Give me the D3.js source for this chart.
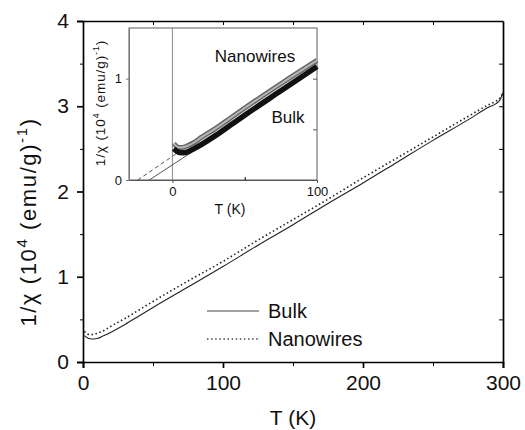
<!DOCTYPE html>
<html>
<head>
<meta charset="utf-8">
<script src="https://cdn.jsdelivr.net/npm/d3@7"></script>
<style>
  body { margin: 0; background: #fff; }
  text { font-family: "Liberation Sans", Arial, sans-serif; fill: #111; }
</style>
</head>
<body>
<div id="chart"></div>
<script>
// temperatures (K) and 1/chi values (10^4 (emu/g)^-1)
const temps = [1, 3, 5, 8, 10, 15, 20, 30, 40, 50, 75, 100, 125, 150, 175, 200, 225, 250, 275, 290, 295, 298, 300];
const bulk = [0.31, 0.285, 0.272, 0.27, 0.275, 0.31, 0.35, 0.44, 0.54, 0.64, 0.88, 1.12, 1.37, 1.61, 1.86, 2.10, 2.35, 2.60, 2.84, 2.99, 3.03, 3.08, 3.16];
const nanowires = [0.36, 0.33, 0.32, 0.325, 0.335, 0.37, 0.42, 0.51, 0.61, 0.71, 0.95, 1.18, 1.43, 1.67, 1.91, 2.16, 2.40, 2.64, 2.88, 3.02, 3.06, 3.10, 3.16];

// Curie-Weiss extrapolations shown in the inset
const bulkFitT = [-16, 14];
const bulkFit = [0, 0.28];
const nanoFitT = [-24, 10];
const nanoFit = [0, 0.33];

const xTicks = [0, 100, 200, 300];
const yTicks = [0, 1, 2, 3, 4];
const insetXTicks = [0, 100];
const insetYTicks = [0, 1];
const legendLabels = ["Bulk", "Nanowires"];

function main() {
    const svg = d3.select("#chart").append("svg")
        .attr("width", 525)
        .attr("height", 430);

    const x = d3.scaleLinear().domain([0, 300]).range([83, 503]);
    const y = d3.scaleLinear().domain([0, 4]).range([362, 21]);

    const bulkData = temps.map((t, i) => ({ t: t, v: bulk[i] }));
    const nanoData = temps.map((t, i) => ({ t: t, v: nanowires[i] }));

    // main axes
    svg.append("g")
        .attr("transform", "translate(0,362)")
        .call(d3.axisBottom(x).tickValues(xTicks).tickSize(6).tickPadding(7).tickFormat(d3.format("d")))
        .call(g => g.selectAll("text").attr("font-size", 21))
        .call(g => g.selectAll(".domain, line").attr("stroke-width", 1.7));
    svg.append("g")
        .attr("transform", "translate(0,362)")
        .call(d3.axisBottom(x).tickValues([50, 150, 250]).tickSize(4).tickFormat(""))
        .call(g => g.select(".domain").remove());

    svg.append("g")
        .attr("transform", "translate(83,0)")
        .call(d3.axisLeft(y).tickValues(yTicks).tickSize(6).tickPadding(8).tickFormat(d3.format("d")))
        .call(g => g.selectAll("text").attr("font-size", 21))
        .call(g => g.selectAll(".domain, line").attr("stroke-width", 1.7));
    svg.append("g")
        .attr("transform", "translate(83,0)")
        .call(d3.axisLeft(y).tickValues([0.5, 1.5, 2.5, 3.5]).tickSize(3).tickFormat(""))
        .call(g => g.select(".domain").remove());

    // top and right with inward ticks
    svg.append("g")
        .attr("transform", "translate(0,21)")
        .call(d3.axisBottom(x).tickValues([50, 100, 150, 200, 250]).tickSize(4).tickFormat("").tickSizeOuter(0))
        .call(g => g.select(".domain").attr("stroke-width", 1.7));
    svg.append("g")
        .attr("transform", "translate(503,0)")
        .call(d3.axisLeft(y).tickValues([0.5, 1, 1.5, 2, 2.5, 3, 3.5]).tickSize(4).tickFormat("").tickSizeOuter(0))
        .call(g => g.select(".domain").attr("stroke-width", 1.7));

    // axis titles
    svg.append("text")
        .attr("x", 293).attr("y", 425)
        .attr("text-anchor", "middle")
        .attr("font-size", 21)
        .text("T (K)");

    const yl = svg.append("text")
        .attr("transform", "translate(36,222) rotate(-90)")
        .attr("text-anchor", "middle")
        .attr("font-size", 22)
        .attr("letter-spacing", 1.6);
    yl.append("tspan").text("1/χ (10");
    yl.append("tspan").attr("font-size", 15).attr("dy", -9).text("4");
    yl.append("tspan").attr("dy", 9).text(" (emu/g)");
    yl.append("tspan").attr("font-size", 15).attr("dy", -9).text("-1");
    yl.append("tspan").attr("dy", 9).text(")");

    // main curves
    const line = d3.line().x(d => x(d.t)).y(d => y(d.v)).curve(d3.curveMonotoneX);
    svg.append("path")
        .datum(bulkData)
        .attr("d", line)
        .attr("fill", "none")
        .attr("stroke", "#222")
        .attr("stroke-width", 1.1);
    svg.append("path")
        .datum(nanoData)
        .attr("d", line)
        .attr("fill", "none")
        .attr("stroke", "#222")
        .attr("stroke-width", 1.6)
        .attr("stroke-dasharray", "1.5,2.6");

    // legend
    const legend = svg.append("g");
    legendLabels.forEach((name, i) => {
        const ly = 311 + i * 28;
        legend.append("line")
            .attr("x1", 207).attr("x2", 259)
            .attr("y1", ly).attr("y2", ly)
            .attr("stroke", "#444")
            .attr("stroke-width", i == 0 ? 1.1 : 1.6)
            .attr("stroke-dasharray", i == 0 ? null : "1.5,2.6");
        legend.append("text")
            .attr("x", 268).attr("y", ly + 7)
            .attr("font-size", 20)
            .text(name);
    });

    // inset
    const ix = d3.scaleLinear().domain([-30, 100]).range([129, 317]);
    const iy = d3.scaleLinear().domain([0, 1.5]).range([180, 28]);

    svg.append("rect")
        .attr("x", 129).attr("y", 28)
        .attr("width", 188).attr("height", 152)
        .attr("fill", "#fff")
        .attr("stroke", "#777")
        .attr("stroke-width", 1.2);

    svg.append("line")
        .attr("x1", ix(0)).attr("x2", ix(0))
        .attr("y1", 28).attr("y2", 180)
        .attr("stroke", "#888")
        .attr("stroke-width", 1);

    const ig = svg.append("g");
    ig.append("g")
        .attr("transform", "translate(0,180)")
        .call(d3.axisBottom(ix).tickValues(insetXTicks).tickSize(3).tickPadding(4).tickSizeOuter(0).tickFormat(d3.format("d")))
        .call(g => g.selectAll("text").attr("font-size", 13))
        .call(g => g.selectAll("line, .domain").attr("stroke", "#555"));
    ig.append("g")
        .attr("transform", "translate(129,0)")
        .call(d3.axisLeft(iy).tickValues(insetYTicks).tickSize(3).tickPadding(4).tickSizeOuter(0).tickFormat(d3.format("d")))
        .call(g => g.selectAll("text").attr("font-size", 13))
        .call(g => g.selectAll("line, .domain").attr("stroke", "#777"));
    ig.append("g")
        .attr("transform", "translate(0,180)")
        .call(d3.axisTop(ix).tickValues([50]).tickSize(3).tickFormat("").tickSizeOuter(0))
        .call(g => g.select(".domain").remove());
    ig.append("g")
        .attr("transform", "translate(317,0)")
        .call(d3.axisLeft(iy).tickValues([0.5, 1]).tickSize(4).tickFormat("").tickSizeOuter(0))
        .call(g => g.select(".domain").remove())
        .call(g => g.selectAll("line").attr("stroke", "#555"));

    // fit lines
    svg.append("path")
        .datum(nanoFitT.map((t, i) => ({ t: t, v: nanoFit[i] })))
        .attr("d", d3.line().x(d => ix(d.t)).y(d => iy(d.v)))
        .attr("fill", "none")
        .attr("stroke", "#555")
        .attr("stroke-width", 1)
        .attr("stroke-dasharray", "4,3");
    svg.append("path")
        .datum(bulkFitT.map((t, i) => ({ t: t, v: bulkFit[i] })))
        .attr("d", d3.line().x(d => ix(d.t)).y(d => iy(d.v)))
        .attr("fill", "none")
        .attr("stroke", "#555")
        .attr("stroke-width", 1);

    // thick data bands
    const iline = d3.line().x(d => ix(d.t)).y(d => iy(d.v)).curve(d3.curveMonotoneX);
    const inBulk = bulkData.filter(d => d.t <= 100);
    const inNano = nanoData.filter(d => d.t <= 100);
    svg.append("path")
        .datum(inNano)
        .attr("d", iline)
        .attr("fill", "none")
        .attr("stroke", "#666")
        .attr("stroke-width", 5);
    svg.append("path")
        .datum(inNano)
        .attr("d", iline)
        .attr("fill", "none")
        .attr("stroke", "#b5b5b5")
        .attr("stroke-width", 2);
    svg.append("path")
        .datum(inBulk)
        .attr("d", iline)
        .attr("fill", "none")
        .attr("stroke", "#111")
        .attr("stroke-width", 5.5);

    // inset labels
    svg.append("text")
        .attr("x", 255).attr("y", 62)
        .attr("text-anchor", "middle")
        .attr("font-size", 17)
        .text("Nanowires");
    svg.append("text")
        .attr("x", 288).attr("y", 123)
        .attr("text-anchor", "middle")
        .attr("font-size", 17)
        .text("Bulk");
    svg.append("text")
        .attr("x", 230).attr("y", 214)
        .attr("text-anchor", "middle")
        .attr("font-size", 14)
        .text("T (K)");

    const iyl = svg.append("text")
        .attr("transform", "translate(105,103) rotate(-90)")
        .attr("text-anchor", "middle")
        .attr("font-size", 13.5)
        .attr("letter-spacing", 0.9);
    iyl.append("tspan").text("1/χ (10");
    iyl.append("tspan").attr("font-size", 9).attr("dy", -6).text("4");
    iyl.append("tspan").attr("dy", 6).text(" (emu/g)");
    iyl.append("tspan").attr("font-size", 9).attr("dy", -6).text("-1");
    iyl.append("tspan").attr("dy", 6).text(")");
}
main();
</script>
</body>
</html>
